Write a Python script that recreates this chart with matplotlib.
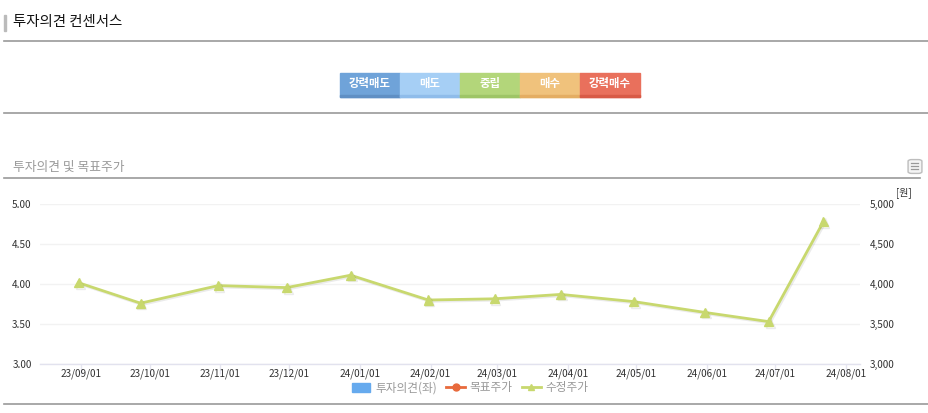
import matplotlib
matplotlib.use("Agg")
import matplotlib.pyplot as plt
import matplotlib.dates as mdates
from matplotlib.patches import Rectangle, FancyBboxPatch, Patch
from matplotlib.lines import Line2D
from matplotlib.ticker import FixedLocator, FuncFormatter
import matplotlib.patheffects as pe
import pandas as pd

plt.rcParams['font.family'] = ['Noto Sans CJK KR', 'DejaVu Sans']

# ---------------- data ----------------
price_dates = ['2023-08-31', '2023-09-27', '2023-10-31', '2023-11-30', '2023-12-28',
               '2024-01-31', '2024-02-29', '2024-03-29', '2024-04-30', '2024-05-31',
               '2024-06-28', '2024-07-22']
adj_price = [4015, 3760, 3980, 3955, 4110, 3800, 3815, 3870, 3780, 3645, 3530, 4780]
target_price = []      # 목표주가 (no data)
opinion = []           # 투자의견 (no data)

month_ticks = ['2023-09-01', '2023-10-01', '2023-11-01', '2023-12-01', '2024-01-01',
               '2024-02-01', '2024-03-01', '2024-04-01', '2024-05-01', '2024-06-01',
               '2024-07-01', '2024-08-01']
left_ticks = [3.0, 3.5, 4.0, 4.5, 5.0]
right_ticks = [3000, 3500, 4000, 4500, 5000]
buttons = ['강력매도', '매도', '중립', '매수', '강력매수']
button_colors = ['#6fa3d9', '#a6cff5', '#b3d67a', '#f0c27c', '#e9705c']
button_dark = ['#5f8fc4', '#8fbcea', '#9ec566', '#e4ad62', '#d85a46']

# ---------------- figure ----------------
W, H = 929, 413
fig = plt.figure(figsize=(W / 100, H / 100), dpi=100)
fig.patch.set_facecolor('white')


def fx(x):
    return x / W


def fy(y):
    return 1 - y / H


def hline(y, x0, x1, color='#999999', lw=1.2):
    fig.add_artist(Line2D([fx(x0), fx(x1)], [fy(y), fy(y)], color=color, lw=lw,
                          transform=fig.transFigure))


# header
fig.add_artist(Rectangle((fx(4), fy(31)), fx(2), 16 / H, color='#bbbbbb',
                         transform=fig.transFigure))
fig.text(fx(13), fy(22), '투자의견 컨센서스', fontsize=10.4, color='#111111',
         va='center', ha='left')
hline(41, 4, 929)

# buttons
bx0, bw, by0, bh = 340, 60, 73, 24
for i, (lab, c, cd) in enumerate(zip(buttons, button_colors, button_dark)):
    x = bx0 + i * bw
    fig.add_artist(Rectangle((fx(x), fy(by0 + bh)), bw / W, bh / H, color=c,
                             transform=fig.transFigure))
    fig.add_artist(Rectangle((fx(x), fy(by0 + bh)), bw / W, 2 / H, color=cd,
                             transform=fig.transFigure))
    fig.text(fx(x + bw / 2), fy(by0 + bh / 2 - 1), lab, fontsize=8.2, color='white',
             fontweight='bold', ha='center', va='center')
hline(113, 4, 929)

# section title
fig.text(fx(13), fy(167), '투자의견 및 목표주가', fontsize=9.2, color='#999999',
         va='center', ha='left')
hline(178, 4, 920)

# menu icon
fig.add_artist(FancyBboxPatch((fx(909), fy(173)), 12 / W, 13 / H,
                              boxstyle='round,pad=0.001,rounding_size=0.004',
                              facecolor='#f4f4f4', edgecolor='#bdbdbd', lw=1,
                              transform=fig.transFigure))
for yy in (163, 166, 169):
    fig.add_artist(Line2D([fx(911.5), fx(918.5)], [fy(yy), fy(yy)], color='#999999',
                          lw=0.9, transform=fig.transFigure))

# ---------------- chart ----------------
ax = fig.add_axes([fx(40), fy(364), (860 - 40) / W, 160 / H])
ax2 = ax.twinx()

d = pd.to_datetime(price_dates)
ticks = pd.to_datetime(month_ticks)

ax.set_ylim(left_ticks[0], left_ticks[-1])
ax2.set_ylim(right_ticks[0], right_ticks[-1])
ax.set_xlim(pd.Timestamp('2023-08-14'), pd.Timestamp('2024-08-07'))

ax.yaxis.set_major_locator(FixedLocator(left_ticks))
ax.yaxis.set_major_formatter(FuncFormatter(lambda v, p: f'{v:.2f}'))
ax2.yaxis.set_major_locator(FixedLocator(right_ticks))
ax2.yaxis.set_major_formatter(FuncFormatter(lambda v, p: f'{v:,.0f}'))

ax.set_xticks(ticks)
ax.xaxis.set_major_formatter(mdates.DateFormatter('%y/%m/%d'))

ax.grid(axis='y', color='#f2f2f2', lw=1)
ax.set_axisbelow(True)
for a in (ax, ax2):
    for s in ('top', 'left', 'right'):
        a.spines[s].set_visible(False)
    a.spines['bottom'].set_color('#e2e2ee')
    a.spines['bottom'].set_linewidth(1)
ax2.spines['bottom'].set_visible(False)

ax.tick_params(axis='x', colors='#e6e6f0', length=7.5, width=1, direction='out',
               labelcolor='#333333', labelsize=7.2, pad=-4.5)
ax.tick_params(axis='y', length=0, labelcolor='#333333', labelsize=7.2, pad=6)
ax2.tick_params(axis='y', length=0, labelcolor='#333333', labelsize=7.2, pad=7)

line_color = '#c8d86e'
ax2.plot(d, adj_price, color=line_color, lw=2, marker='^', markersize=6.5,
         markeredgecolor=line_color, zorder=3,
         path_effects=[pe.SimpleLineShadow(offset=(1, -1), shadow_color='#000000',
                                           alpha=0.08), pe.Normal()])

fig.text(fx(904), fy(193), '[원]', fontsize=7.2, color='#333333', ha='center',
         va='center')

# legend
handles = [Patch(facecolor='#66aaee', edgecolor='#66aaee'),
           Line2D([], [], color='#e86a3c', lw=2, marker='o', markersize=5),
           Line2D([], [], color=line_color, lw=2, marker='^', markersize=5)]
labels = ['투자의견(좌)', '목표주가', '수정주가']
fig.legend(handles, labels, loc='center', bbox_to_anchor=(fx(470), fy(388)),
           ncol=3, frameon=False, fontsize=8.4, labelcolor='#999999',
           handlelength=1.6, handletextpad=0.4, columnspacing=0.8)

hline(404, 4, 929)

fig.savefig('out.png', dpi=100, facecolor='white')
